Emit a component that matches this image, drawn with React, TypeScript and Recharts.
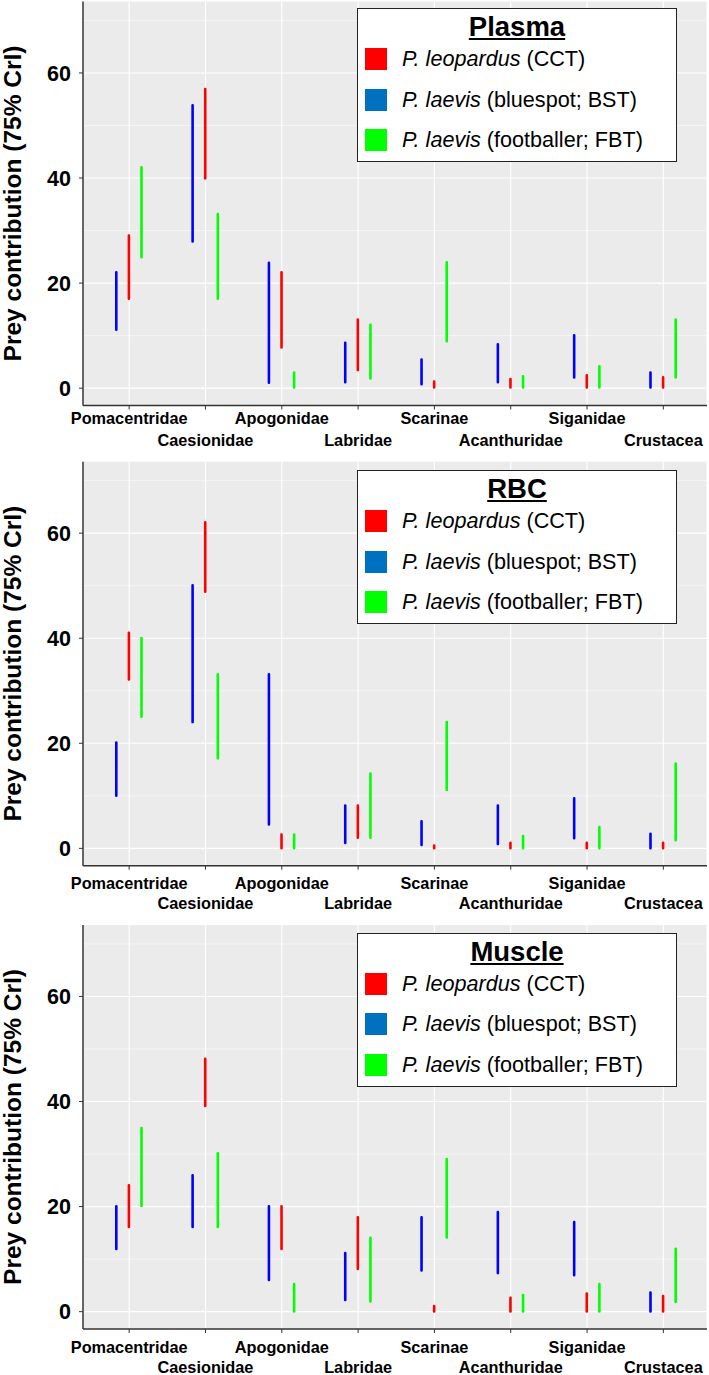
import { BarChart, Bar, XAxis, YAxis, CartesianGrid, Legend } from "recharts";

const families = [
  "Pomacentridae",
  "Caesionidae",
  "Apogonidae",
  "Labridae",
  "Scarinae",
  "Acanthuridae",
  "Siganidae",
  "Crustacea",
];

// 75% credible interval [low, high] per prey group
const plasmaBST = [[10.9, 22.3], [27.7, 54.1], [0.8, 24.1], [0.9, 8.9], [0.5, 5.7], [0.9, 8.6], [1.8, 10.3], [-0.1, 3.2]];
const plasmaCCT = [[16.8, 29.3], [39.7, 57.2], [7.5, 22.3], [3.2, 13.3], [-0.1, 1.5], [-0.1, 2.0], [-0.1, 2.7], [-0.1, 2.3]];
const plasmaFBT = [[24.7, 42.3], [16.8, 33.4], [-0.1, 3.2], [1.6, 12.3], [8.7, 24.2], [-0.1, 2.5], [-0.1, 4.4], [1.8, 13.3]];

const rbcBST = [[9.8, 20.4], [23.8, 50.3], [4.3, 33.4], [0.8, 8.4], [0.4, 5.4], [0.6, 8.4], [1.7, 9.8], [-0.2, 3.0]];
const rbcCCT = [[31.9, 41.3], [48.6, 62.3], [-0.2, 2.9], [1.8, 8.4], [-0.2, 0.8], [-0.2, 1.3], [-0.2, 1.3], [-0.2, 1.3]];
const rbcFBT = [[24.8, 40.3], [16.9, 33.4], [-0.2, 2.9], [1.8, 14.5], [10.9, 24.3], [-0.2, 2.6], [-0.2, 4.3], [1.3, 16.4]];

const muscleBST = [[11.7, 20.3], [15.9, 26.2], [5.8, 20.3], [2.0, 11.4], [7.6, 18.2], [7.1, 19.2], [6.7, 17.3], [-0.2, 3.9]];
const muscleCCT = [[15.9, 24.3], [38.9, 48.4], [11.7, 20.3], [7.9, 18.2], [-0.2, 1.3], [-0.2, 2.9], [-0.2, 3.7], [-0.2, 3.2]];
const muscleFBT = [[19.9, 35.2], [15.9, 30.4], [-0.2, 5.5], [1.7, 14.3], [13.9, 29.3], [-0.2, 3.4], [-0.2, 5.5], [1.6, 12.2]];

const majorTicks = [0, 20, 40, 60];
const minorTicks = [10, 30, 50, 70];

const legendItems = [
  { species: "P. leopardus", note: "(CCT)", color: "#FF0000" },
  { species: "P. laevis", note: "(bluespot; BST)", color: "#0070C0" },
  { species: "P. laevis", note: "(footballer; FBT)", color: "#00FF00" },
];

const FONT = '"Liberation Sans", Arial, sans-serif';
const AXIS = "#333333";
const PLOT_H = 404;

function FamilyTick(props: any) {
  const { x, y, payload, index, rowA, rowB } = props;
  const low = index % 2 === 1;
  return (
    <text
      x={x}
      y={y + (low ? rowB : rowA)}
      textAnchor="middle"
      fontFamily={FONT}
      fontWeight={700}
      fontSize={16.3}
      fill="#000"
    >
      {payload.value}
    </text>
  );
}

function LegendBox({ title }: { title: string }) {
  return (
    <div
      style={{
        position: "relative",
        width: 320,
        height: 154,
        boxSizing: "border-box",
        border: "1.5px solid #222",
        background: "#fff",
        fontFamily: FONT,
        color: "#000",
      }}
    >
      <div
        style={{
          position: "absolute",
          top: 3,
          left: 0,
          right: 0,
          textAlign: "center",
          fontWeight: 700,
          fontSize: 27.5,
          lineHeight: "30px",
          textDecoration: "underline",
        }}
      >
        {title}
      </div>
      {legendItems.map((it, i) => (
        <div
          key={i}
          style={{
            position: "absolute",
            top: 30 + i * 40.5,
            left: 7,
            height: 40,
            display: "flex",
            alignItems: "center",
            fontSize: 21.6,
            whiteSpace: "pre",
          }}
        >
          <span style={{ width: 22, height: 22, background: it.color, display: "inline-block", marginRight: 15 }} />
          <span style={{ fontStyle: "italic" }}>{it.species}</span>
          <span style={{ marginLeft: 6 }}>{it.note}</span>
        </div>
      ))}
    </div>
  );
}

function Panel(props: any) {
  const { title, bst, cct, fbt, height, top, legendTop, rowA, rowB } = props;
  const rows = families.map((family, i) => ({ family, bst: bst[i], cct: cct[i], fbt: fbt[i] }));
  const midY = top + PLOT_H / 2;
  return (
    <BarChart
      width={709}
      height={height}
      data={rows}
      margin={{ top, right: 2, bottom: 0, left: 0 }}
      barGap={10}
      barSize={2.6}
    >
      <CartesianGrid fill="#EBEBEB" stroke="#FFFFFF" strokeWidth={1.1} horizontalValues={majorTicks} />
      <CartesianGrid stroke="#FFFFFF" strokeWidth={0.5} vertical={false} horizontalValues={minorTicks} />
      <XAxis
        dataKey="family"
        height={height - top - PLOT_H}
        padding={{ left: 8, right: 5.5 }}
        interval={0}
        tick={<FamilyTick rowA={rowA} rowB={rowB} />}
        tickSize={4}
        tickLine={{ stroke: AXIS }}
        axisLine={{ stroke: AXIS, strokeWidth: 1.5 }}
      />
      <XAxis
        xAxisId="top"
        orientation="top"
        dataKey="family"
        height={0}
        tick={false}
        tickLine={false}
        axisLine={{ stroke: AXIS, strokeWidth: 1.5 }}
      />
      <YAxis
        domain={[-3.3, 73.6]}
        ticks={majorTicks}
        allowDataOverflow
        width={83}
        tickSize={4}
        tickMargin={8}
        tickLine={{ stroke: AXIS }}
        axisLine={{ stroke: AXIS, strokeWidth: 1.5 }}
        tick={{ fill: "#000", fontSize: 21.5, fontWeight: 700, fontFamily: FONT }}
        label={() => (
          <text
            x={21}
            y={midY}
            transform={`rotate(-90, 21, ${midY})`}
            textAnchor="middle"
            fontFamily={FONT}
            fontWeight={700}
            fontSize={24.5}
            fill="#000"
          >
            Prey contribution (75% CrI)
          </text>
        )}
      />
      <YAxis
        yAxisId="right"
        orientation="right"
        domain={[-3.3, 73.6]}
        width={0}
        tick={false}
        tickLine={false}
        axisLine={{ stroke: AXIS, strokeWidth: 1.5 }}
      />
      <Legend
        layout="horizontal"
        verticalAlign="middle"
        align="center"
        content={() => <LegendBox title={title} />}
        wrapperStyle={{ position: "absolute", left: 357, top: legendTop, width: 320, height: 154 }}
      />
      <Bar dataKey="bst" fill="#0000FF" radius={1.2} isAnimationActive={false} />
      <Bar dataKey="cct" fill="#FF0000" radius={1.2} isAnimationActive={false} />
      <Bar dataKey="fbt" fill="#00FF00" radius={1.2} isAnimationActive={false} />
    </BarChart>
  );
}

export default function App() {
  return (
    <div style={{ position: "absolute", left: 0, top: 0, width: 709, height: 1375, overflow: "hidden", background: "#fff" }}>
      <Panel title="Plasma" bst={plasmaBST} cct={plasmaCCT} fbt={plasmaFBT} height={460} top={1.5} legendTop={8} rowA={12} rowB={34} />
      <Panel title="RBC" bst={rbcBST} cct={rbcCCT} fbt={rbcFBT} height={460} top={1.7} legendTop={10} rowA={17} rowB={37} />
      <Panel title="Muscle" bst={muscleBST} cct={muscleCCT} fbt={muscleFBT} height={455} top={5} legendTop={12.7} rowA={18} rowB={37.5} />
    </div>
  );
}
